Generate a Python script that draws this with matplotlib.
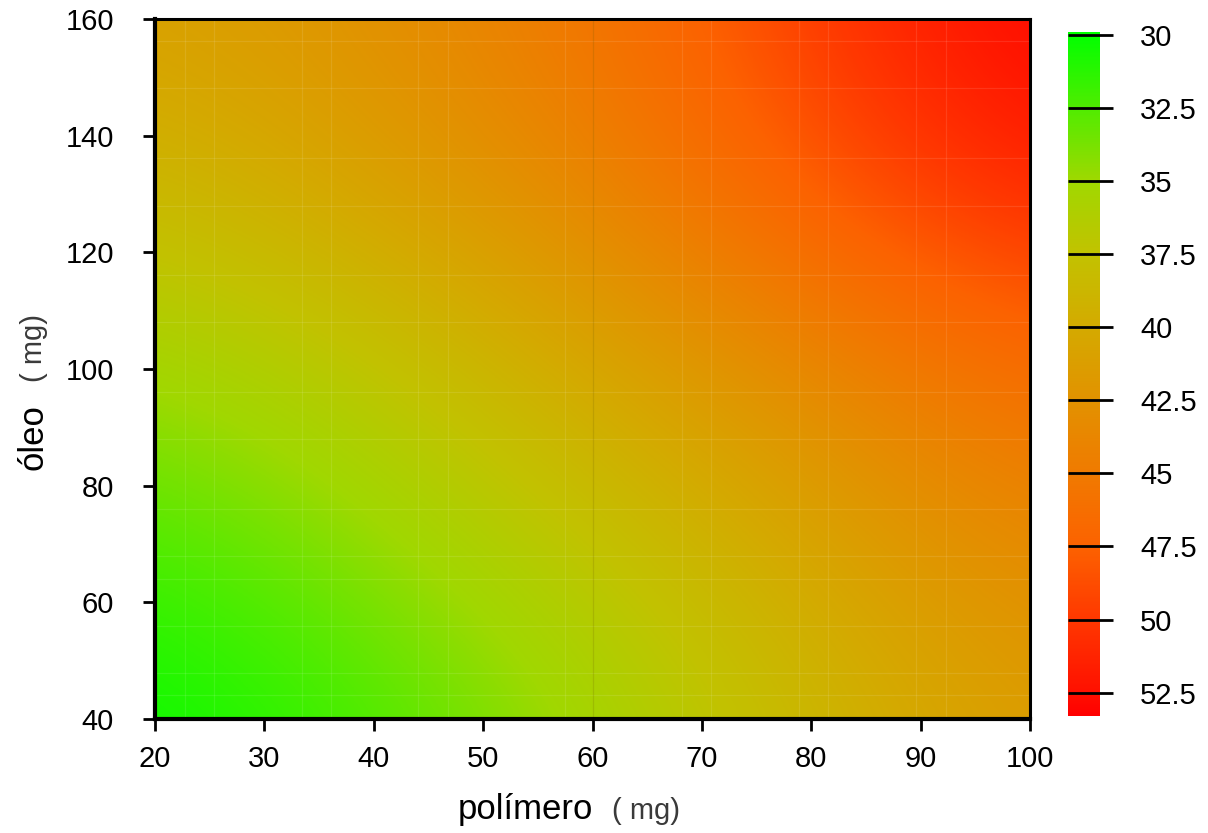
import numpy as np
import matplotlib
matplotlib.use("Agg")
import matplotlib.pyplot as plt
from matplotlib.colors import LinearSegmentedColormap, Normalize

plt.rcParams['font.family'] = ['Liberation Sans', 'DejaVu Sans']

# Response surface sampled on a coarse design grid
polimero = [20, 40, 60, 80, 100]          # mg
oleo = [40, 70, 100, 130, 160]            # mg
resposta = [                               # rows follow oleo, columns follow polimero
    [29.9, 32.2, 35.0, 38.5, 41.5],
    [32.2, 34.5, 37.3, 40.5, 43.5],
    [34.9, 37.0, 40.3, 43.3, 46.6],
    [38.3, 40.8, 43.6, 48.0, 51.3],
    [41.0, 42.6, 45.5, 50.0, 53.3],
]
z_min, z_max = 29.9, 53.3

x_ticks = [20, 30, 40, 50, 60, 70, 80, 90, 100]
y_ticks = [40, 60, 80, 100, 120, 140, 160]
cbar_ticks = [30, 32.5, 35, 37.5, 40, 42.5, 45, 47.5, 50, 52.5]
cbar_labels = ['30', '32.5', '35', '37.5', '40', '42.5', '45', '47.5', '50', '52.5']

# green -> olive -> orange -> red palette
pal_values = [29.9, 32.5, 35, 37.5, 40, 42.5, 45, 47.5, 50, 52.5, 53.3]
pal_colors = ['#00ff00', '#50ec00', '#a0d800', '#c2c200', '#d4aa00', '#e29200',
              '#f07a00', '#fc6200', '#ff3800', '#ff1000', '#ff0000']

W, H = 1208, 833
fig = plt.figure(figsize=(W / 100, H / 100), dpi=100)

def fx(px):
    return px / W

def fy(py):
    return 1 - py / H

ax = fig.add_axes([fx(155), fy(719), fx(1030) - fx(155), fy(19) - fy(719)])

pos = [(v - z_min) / (z_max - z_min) for v in pal_values]
cmap = LinearSegmentedColormap.from_list('gyr', list(zip(pos, pal_colors)), N=512)
norm = Normalize(vmin=z_min, vmax=z_max)

Z = np.array(resposta)
dx = polimero[1] - polimero[0]
dy = oleo[1] - oleo[0]
im = ax.imshow(Z, origin='lower', cmap=cmap, norm=norm, aspect='auto',
               interpolation='bicubic', interpolation_stage='data',
               extent=(polimero[0] - dx / 2, polimero[-1] + dx / 2,
                       oleo[0] - dy / 2, oleo[-1] + dy / 2))
ax.set_xlim(20, 100)
ax.set_ylim(40, 160)

# faint tiling seams across the surface
x_guides = [22.7, 25.4, 33.4, 36.1, 44.0, 46.8, 57.5, 68.2, 70.8, 78.9, 81.5, 89.6, 92.3]
y_guides = [156.2, 148.2, 136.2, 127.9, 116.1, 108.1, 96.1, 88.0, 76.0, 67.9, 64.0, 55.9, 47.9, 44.1]
for gx in x_guides:
    ax.axvline(gx, color='white', alpha=0.10, lw=0.9, zorder=2)
for gy in y_guides:
    ax.axhline(gy, color='white', alpha=0.10, lw=0.9, zorder=2)
ax.axvline(60, color='#6a5a00', alpha=0.18, lw=0.9, zorder=2)

ax.set_xticks(x_ticks)
ax.set_yticks(y_ticks)
ax.tick_params(axis='both', direction='out', length=8.5, width=2, labelsize=21,
               colors='black')
ax.tick_params(axis='x', pad=10)
ax.tick_params(axis='y', pad=21)
for side in ['left', 'bottom']:
    ax.spines[side].set_linewidth(3)
for side in ['top', 'right']:
    ax.spines[side].set_linewidth(2.2)

# axis titles with a smaller unit annotation
fig.text(fx(458), fy(819), 'polímero', fontsize=25, color='black',
         ha='left', va='baseline')
fig.text(fx(612), fy(819), '( mg)', fontsize=21, color='#3a3a3a',
         ha='left', va='baseline')
fig.text(fx(43), fy(470), 'óleo', fontsize=25, color='black', rotation=90,
         rotation_mode='anchor', ha='left', va='baseline')
fig.text(fx(42), fy(382), '( mg)', fontsize=21, color='#3a3a3a', rotation=90,
         rotation_mode='anchor', ha='left', va='baseline')

# color key, smallest value on top
cax = fig.add_axes([fx(1068), fy(716), fx(1100) - fx(1068), fy(32) - fy(716)])
cb = fig.colorbar(im, cax=cax)
cb.outline.set_visible(False)
cax.invert_yaxis()
cax.set_yticks(cbar_ticks)
cax.set_yticklabels(cbar_labels)
cax.tick_params(axis='y', length=0, labelsize=21, pad=29, right=False, labelright=True)
for v in cbar_ticks:
    cax.plot([0, 1.4], [v, v], color='black', lw=2, transform=cax.get_yaxis_transform(),
             clip_on=False, solid_capstyle='butt')

fig.savefig('out.png', dpi=100)
